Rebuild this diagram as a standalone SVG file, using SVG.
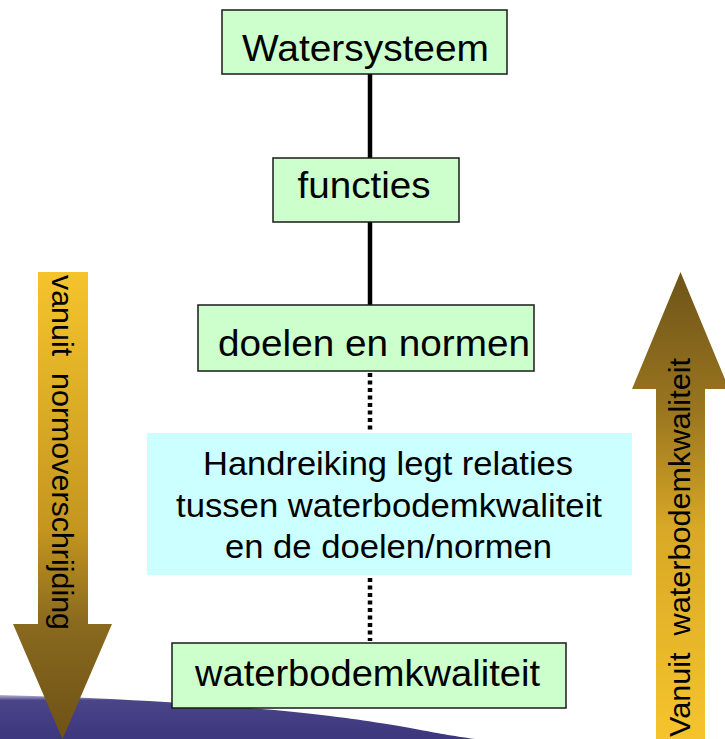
<svg xmlns="http://www.w3.org/2000/svg" width="725" height="739" viewBox="0 0 725 739">
  <defs>
    <linearGradient id="gDown" x1="0" y1="0" x2="0" y2="1">
      <stop offset="0" stop-color="#f5c42c"/>
      <stop offset="0.55" stop-color="#c4961f"/>
      <stop offset="0.75" stop-color="#8a6a1e"/>
      <stop offset="1" stop-color="#6e5216"/>
    </linearGradient>
    <linearGradient id="gUp" x1="0" y1="1" x2="0" y2="0">
      <stop offset="0" stop-color="#f5c42c"/>
      <stop offset="0.45" stop-color="#d9a826"/>
      <stop offset="0.7" stop-color="#9a761f"/>
      <stop offset="1" stop-color="#6e5418"/>
    </linearGradient>
    <linearGradient id="gBand" x1="0" y1="0" x2="0" y2="1">
      <stop offset="0" stop-color="#b9b7d6"/>
      <stop offset="0.12" stop-color="#4a4588"/>
      <stop offset="1" stop-color="#3c377e"/>
    </linearGradient>
    <style>
      .box { fill: #ccffcc; stroke: #1a1a1a; stroke-width: 1.5; }
      .info { fill: #ccffff; }
      .t { font-family: "Liberation Sans", Arial, sans-serif; fill: #000; text-anchor: middle; }
      .big { font-size: 37px; }
      .mid { font-size: 34px; }
      .vt { font-family: "Liberation Sans", Arial, sans-serif; fill: #000; font-size: 29px; }
      .solid { stroke: #000; stroke-width: 4.5; fill: none; }
      .dot { stroke: #000; stroke-width: 4.5; fill: none; stroke-dasharray: 4 3.5; }
    </style>
  </defs>

  <rect width="725" height="739" fill="#ffffff"/>

  <path id="band" d="M0,695 C120,698 250,706 330,716 S 430,733 475,739 L0,739 Z" fill="url(#gBand)"/>

  <g id="arrow-left">
    <path d="M38,272 L88,272 L88,624 L112,624 L62.5,739 L13,624 L38,624 Z" fill="url(#gDown)"/>
    <text class="vt" transform="translate(52,275) rotate(90)" xml:space="preserve" textLength="355" lengthAdjust="spacingAndGlyphs">vanuit  normoverschrijding</text>
  </g>

  <g id="arrow-right">
    <path d="M680.5,272 L729,389 L705,389 L705,739 L656,739 L656,389 L632,389 Z" fill="url(#gUp)"/>
    <text class="vt" transform="translate(690,737) rotate(-90)" xml:space="preserve" textLength="379" lengthAdjust="spacingAndGlyphs">Vanuit  waterbodemkwaliteit</text>
  </g>

  <g id="connectors">
    <line class="solid" x1="370" y1="74" x2="370" y2="158"/>
    <line class="solid" x1="370" y1="222" x2="370" y2="305"/>
    <line class="dot" x1="370" y1="373" x2="370" y2="433"/>
    <line class="dot" x1="370" y1="578" x2="370" y2="641"/>
  </g>

  <g id="node-watersysteem">
    <rect class="box" x="222" y="10" width="285" height="64"/>
    <text class="t big" x="365.5" y="61" textLength="247" lengthAdjust="spacingAndGlyphs">Watersysteem</text>
  </g>

  <g id="node-functies">
    <rect class="box" x="273" y="158" width="186" height="64"/>
    <text class="t big" x="364" y="198" textLength="133" lengthAdjust="spacingAndGlyphs">functies</text>
  </g>

  <g id="node-doelen">
    <rect class="box" x="198" y="305" width="336" height="66"/>
    <text class="t big" x="374" y="356" textLength="312" lengthAdjust="spacingAndGlyphs">doelen en normen</text>
  </g>

  <g id="node-handreiking">
    <rect class="info" x="147" y="433" width="485" height="142"/>
    <text class="t mid" x="388" y="475" textLength="370" lengthAdjust="spacingAndGlyphs">Handreiking legt relaties</text>
    <text class="t mid" x="389" y="517" textLength="426" lengthAdjust="spacingAndGlyphs">tussen waterbodemkwaliteit</text>
    <text class="t mid" x="388.5" y="558" textLength="327" lengthAdjust="spacingAndGlyphs">en de doelen/normen</text>
  </g>

  <g id="node-waterbodemkwaliteit">
    <rect class="box" x="172" y="643" width="394" height="65"/>
    <text class="t big" x="367.5" y="686" textLength="345" lengthAdjust="spacingAndGlyphs">waterbodemkwaliteit</text>
  </g>
</svg>
